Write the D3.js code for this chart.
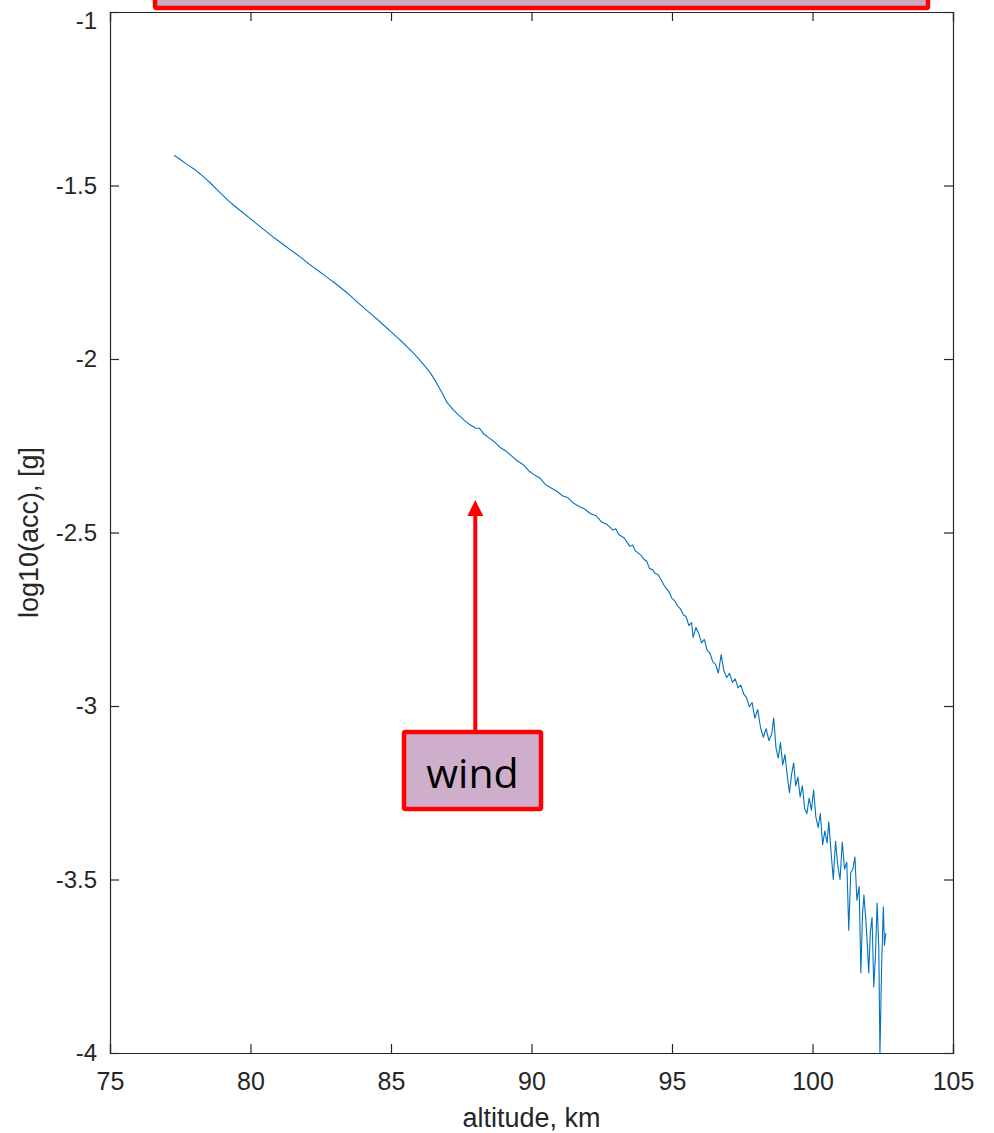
<!DOCTYPE html>
<html lang="en">
<head>
<meta charset="UTF-8">
<title>log10(acc) vs altitude</title>
<script src="https://d3js.org/d3.v7.min.js"></script>
<style>
  body { margin: 0; background: #fff; }
  svg { display: block; }
  .tick text { font-family: "Liberation Sans", Arial, sans-serif; fill: #262626; }
  .x-axis .tick text { font-size: 25px; }
  .y-axis .tick text { font-size: 24px; }
  .label { font-family: "Liberation Sans", Arial, sans-serif; font-size: 27px; fill: #262626; }
</style>
</head>
<body>
<div id="chart"></div>
<script>
// altitude, km
const altitude = [
  77.28, 77.5, 77.7, 77.85, 78.0, 78.2, 78.4, 78.6, 78.8, 79.0, 79.2, 79.4, 79.6, 79.8,
  80.0, 80.2, 80.4, 80.6, 80.8, 81.0, 81.2, 81.4, 81.6, 81.8, 82.0, 82.2, 82.4, 82.6, 82.8,
  83.0, 83.2, 83.4, 83.6, 83.8, 84.0, 84.2, 84.4, 84.6, 84.8, 85.0, 85.2, 85.4, 85.6, 85.8,
  86.0, 86.2, 86.4, 86.6, 86.8, 87.0, 87.2, 87.4, 87.6, 87.8, 88.0, 88.15, 88.3, 88.5, 88.7,
  88.9, 89.1, 89.3, 89.5, 89.7, 89.9, 90.1, 90.3, 90.5, 90.7, 90.9, 91.1, 91.3, 91.5, 91.7,
  91.9, 92.1, 92.3, 92.5, 92.7, 92.9, 93.0, 93.1, 93.3, 93.5, 93.6, 93.7, 93.9, 94.0, 94.1,
  94.2, 94.3, 94.4, 94.5, 94.6, 94.7, 94.8, 94.9, 95.0, 95.1, 95.2, 95.3, 95.4, 95.5, 95.6,
  95.7, 95.75, 95.85, 95.95, 96.05, 96.15, 96.25, 96.35, 96.45, 96.55, 96.65, 96.75, 96.85,
  96.95, 97.05, 97.15, 97.25, 97.35, 97.45, 97.55, 97.65, 97.75, 97.85, 97.95, 98.05, 98.15,
  98.25, 98.35, 98.45, 98.55, 98.62, 98.7, 98.78, 98.86, 98.94, 99.02, 99.1, 99.18, 99.26,
  99.33, 99.4, 99.48, 99.56, 99.64, 99.72, 99.8, 99.88, 99.96, 100.04, 100.12, 100.2, 100.28,
  100.36, 100.44, 100.52, 100.58, 100.66, 100.74, 100.82, 100.9, 100.98, 101.06, 101.14,
  101.22, 101.29, 101.36, 101.44, 101.51, 101.58, 101.66, 101.72, 101.78, 101.83, 101.9,
  101.96, 102.0, 102.06, 102.12, 102.18, 102.24, 102.3, 102.36, 102.4, 102.46, 102.52,
  102.56, 102.61
];

// log10(acc), [g]
const logAcc = [
  -1.413, -1.425, -1.437, -1.445, -1.453, -1.466, -1.480, -1.495, -1.511, -1.527, -1.543, -1.557, -1.570, -1.583,
  -1.596, -1.609, -1.622, -1.635, -1.648, -1.660, -1.672, -1.684, -1.696, -1.708, -1.721, -1.733, -1.745, -1.757, -1.769,
  -1.781, -1.794, -1.807, -1.821, -1.836, -1.850, -1.864, -1.878, -1.892, -1.907, -1.921, -1.936, -1.951, -1.967, -1.983,
  -2.001, -2.020, -2.040, -2.066, -2.095, -2.126, -2.145, -2.161, -2.176, -2.189, -2.199, -2.200, -2.216, -2.228, -2.240,
  -2.256, -2.266, -2.280, -2.294, -2.304, -2.322, -2.334, -2.343, -2.362, -2.372, -2.381, -2.394, -2.400, -2.416, -2.425,
  -2.433, -2.446, -2.452, -2.470, -2.478, -2.493, -2.489, -2.506, -2.516, -2.540, -2.536, -2.553, -2.566, -2.577, -2.583,
  -2.604, -2.607, -2.618, -2.621, -2.635, -2.650, -2.662, -2.672, -2.690, -2.697, -2.712, -2.720, -2.737, -2.742, -2.768,
  -2.760, -2.802, -2.774, -2.790, -2.818, -2.808, -2.840, -2.848, -2.872, -2.880, -2.905, -2.852, -2.900,
  -2.918, -2.906, -2.932, -2.922, -2.948, -2.940, -2.965, -2.975, -3.002, -2.990, -3.035, -3.010, -3.062,
  -3.090, -3.065, -3.100, -3.080, -3.035, -3.120, -3.150, -3.105, -3.170, -3.140, -3.200, -3.250, -3.195,
  -3.164, -3.230, -3.205, -3.262, -3.230, -3.295, -3.310, -3.265, -3.300, -3.242, -3.320, -3.350, -3.310,
  -3.400, -3.360, -3.395, -3.334, -3.420, -3.500, -3.390, -3.460, -3.500, -3.392, -3.470,
  -3.450, -3.646, -3.480, -3.470, -3.435, -3.560, -3.520, -3.769, -3.600, -3.545, -3.620,
  -3.700, -3.769, -3.650, -3.610, -3.810, -3.720, -3.568, -3.700, -4.000, -3.750, -3.579,
  -3.690, -3.654
];

const xTicks = [75, 80, 85, 90, 95, 100, 105];
const yTicks = [-1, -1.5, -2, -2.5, -3, -3.5, -4];

const W = 994, H = 1133;
const margin = {top: 12, right: 41, bottom: 80, left: 110};
const width = W - margin.left - margin.right;
const height = H - margin.top - margin.bottom;

const svg = d3.select("#chart").append("svg")
  .attr("width", W)
  .attr("height", H);

const g = svg.append("g")
  .attr("transform", "translate(" + margin.left + "," + margin.top + ")");

const x = d3.scaleLinear().domain([75, 105]).range([0, width]);
const y = d3.scaleLinear().domain([-4, -1]).range([height, 0]);

const tickLen = 9;

// bottom axis, ticks pointing inward
g.append("g")
  .attr("class", "x-axis")
  .attr("transform", "translate(0," + height + ")")
  .call(d3.axisBottom(x).tickValues(xTicks).tickSize(-tickLen).tickPadding(19).tickFormat(d3.format("d")));

// left axis
const yAxisG = g.append("g")
  .attr("class", "y-axis")
  .call(d3.axisLeft(y).tickValues(yTicks).tickSize(-tickLen).tickPadding(13).tickFormat(d => d));

// the top label sits right at the page edge, nudge it down so it stays visible
yAxisG.selectAll(".tick text").filter(d => d === -1).attr("dy", "0.7em");

// top and right axes (box)
g.append("g")
  .call(d3.axisTop(x).tickValues(xTicks).tickSize(-tickLen).tickFormat(""));
g.append("g")
  .attr("transform", "translate(" + width + ",0)")
  .call(d3.axisRight(y).tickValues(yTicks).tickSize(-tickLen).tickFormat(""));

g.selectAll(".domain").attr("stroke", "#262626").attr("stroke-width", 1.2);
g.selectAll(".tick line").attr("stroke", "#262626").attr("stroke-width", 1.2);

// data line
const pts = altitude.map((a, i) => [a, logAcc[i]]);
g.append("path")
  .datum(pts)
  .attr("fill", "none")
  .attr("stroke", "#0072BD")
  .attr("stroke-width", 1.1)
  .attr("stroke-linejoin", "round")
  .attr("d", d3.line().x(d => x(d[0])).y(d => y(d[1])));

// axis labels
svg.append("text")
  .attr("class", "label")
  .attr("x", margin.left + width / 2)
  .attr("y", 1127)
  .attr("text-anchor", "middle")
  .text("altitude, km");

svg.append("text")
  .attr("class", "label")
  .attr("transform", "translate(38," + (margin.top + height / 2) + ") rotate(-90)")
  .attr("text-anchor", "middle")
  .text("log10(acc), [g]");

// top annotation box (cut off by page edge)
svg.append("rect")
  .attr("x", 155).attr("y", -12)
  .attr("width", 773).attr("height", 20)
  .attr("fill", "#cda9c8")
  .attr("stroke", "#ff0000")
  .attr("stroke-width", 4.5)
  .attr("rx", 1.5);

// wind annotation
const windX = x(88);
svg.append("line")
  .attr("x1", margin.left + windX).attr("x2", margin.left + windX)
  .attr("y1", 732).attr("y2", 514)
  .attr("stroke", "#ff0000")
  .attr("stroke-width", 4);
svg.append("path")
  .attr("d", "M" + (margin.left + windX) + ",500 l-8,16 l16,0 z")
  .attr("fill", "#ff0000");

svg.append("rect")
  .attr("x", 404).attr("y", 732)
  .attr("width", 137).attr("height", 77)
  .attr("fill", "#cfaecb")
  .attr("stroke", "#ff0000")
  .attr("stroke-width", 4.5)
  .attr("rx", 1.5);

svg.append("text")
  .attr("x", 472.5).attr("y", 788)
  .attr("text-anchor", "middle")
  .style("font-family", "'Open Sans', sans-serif")
  .style("font-size", "41px")
  .style("fill", "#000")
  .text("wind");
</script>
</body>
</html>
